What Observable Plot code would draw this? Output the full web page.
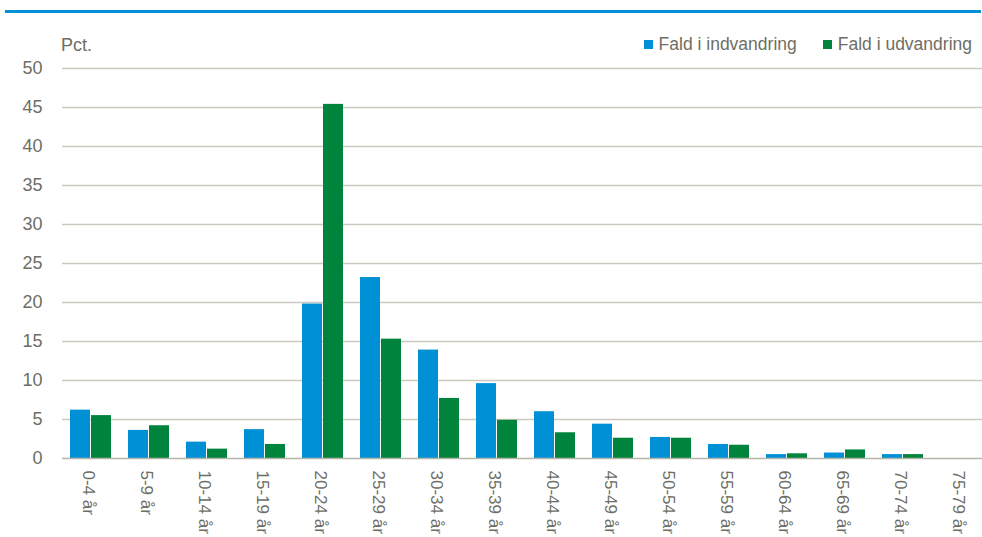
<!DOCTYPE html>
<html>
<head>
<meta charset="utf-8">
<script src="https://cdn.jsdelivr.net/npm/d3@7"></script>
<script src="https://cdn.jsdelivr.net/npm/@observablehq/plot@0.6"></script>
<style>
  html, body { margin: 0; padding: 0; background: #fff; overflow: hidden; }
  #wrap { position: relative; width: 982px; height: 537px; font-family: "Liberation Sans", Arial, sans-serif; color: #6e6e64; }
  #topline { position: absolute; left: 5px; top: 10px; width: 976px; height: 3px; background: #0090d6; }
  #unit { position: absolute; left: 61px; top: 35px; font-size: 18px; }
  #legend { position: absolute; right: 10px; top: 34px; font-size: 17.5px; display: flex; gap: 26px; }
  #legend span.sw { display: inline-block; width: 9px; height: 9px; margin-right: 6px; vertical-align: 1px; }
  #chart { position: absolute; left: 0; top: 0; }
</style>
</head>
<body>
<div id="wrap">
  <div id="topline"></div>
  <div id="unit">Pct.</div>
  <div id="legend"></div>
  <div id="chart"></div>
</div>
<script>
const categories = ["0-4 år","5-9 år","10-14 år","15-19 år","20-24 år","25-29 år","30-34 år","35-39 år","40-44 år","45-49 år","50-54 år","55-59 år","60-64 år","65-69 år","70-74 år","75-79 år"];
const seriesNames = ["Fald i indvandring", "Fald i udvandring"];
const indvandring = [6.2, 3.6, 2.1, 3.7, 19.8, 23.2, 13.9, 9.6, 6.0, 4.4, 2.7, 1.8, 0.5, 0.7, 0.5, 0];
const udvandring  = [5.5, 4.2, 1.2, 1.8, 45.4, 15.3, 7.7, 4.9, 3.3, 2.6, 2.6, 1.7, 0.6, 1.1, 0.5, 0];
const colors = ["#0090d6", "#00843d"];
const yTicks = [0, 5, 10, 15, 20, 25, 30, 35, 40, 45, 50];

const blue = categories.map((c, i) => ({cat: c, v: indvandring[i]}));
const green = categories.map((c, i) => ({cat: c, v: udvandring[i]}));

const textColor = "#6e6e64";
const chart = Plot.plot({
  width: 982,
  height: 537,
  marginTop: 68,
  marginBottom: 79,
  marginLeft: 62,
  marginRight: 0,
  style: {fontFamily: '"Liberation Sans", Arial, sans-serif', fontSize: "17px", color: textColor, background: "transparent"},
  x: {domain: categories, range: [53, 998], padding: 0.293, label: null},
  y: {domain: [0, 50], label: null},
  marks: [
    Plot.ruleY(yTicks.filter(d => d > 0), {stroke: "#c9c9bf", strokeWidth: 1.3}),
    Plot.barY(blue, {x: "cat", y: "v", fill: colors[0], insetRight: 21}),
    Plot.barY(green, {x: "cat", y: "v", fill: colors[1], insetLeft: 21}),
    Plot.ruleY([0], {stroke: "#b4b4a8", strokeWidth: 1.5}),
    Plot.axisY({ticks: yTicks, tickSize: 0, tickPadding: 20, fontSize: 18, fill: textColor, label: null}),
    Plot.axisX({tickSize: 0, tickPadding: 12, tickRotate: 90, fontSize: 17, fill: textColor, label: null, dx: -3})
  ]
});
document.getElementById("chart").appendChild(chart);

const legend = document.getElementById("legend");
seriesNames.forEach((name, i) => {
  const item = document.createElement("div");
  item.innerHTML = `<span class="sw" style="background:${colors[i]}"></span>${name}`;
  legend.appendChild(item);
});
</script>
</body>
</html>
